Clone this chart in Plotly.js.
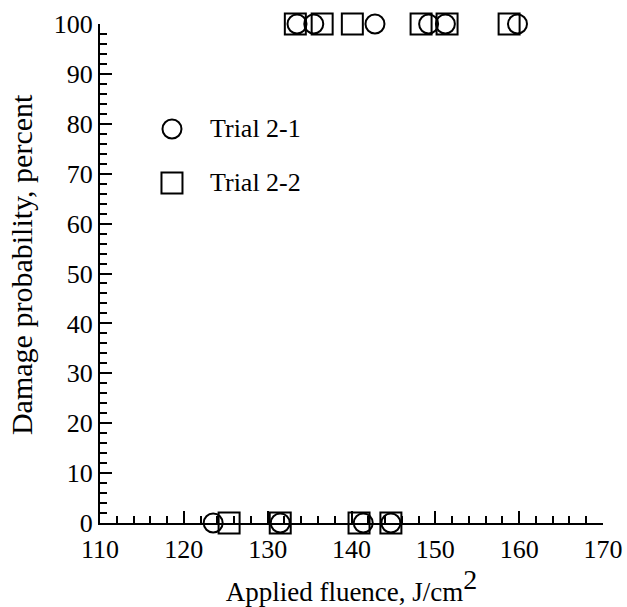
<!DOCTYPE html>
<html>
<head>
<meta charset="utf-8">
<script src="https://cdn.plot.ly/plotly-3.0.1.min.js"></script>
<style>
  html, body { margin: 0; padding: 0; background: #fff; }
  #chart { width: 627px; height: 607px; }
</style>
</head>
<body>
<div id="chart"></div>
<script>
// Trial 2-1 (circles): applied fluence vs damage probability
const trial1Fluence = [123.5, 131.5, 141.4, 144.7, 133.5, 135.5, 142.8, 149.2, 151.2, 159.8];
const trial1Damage  = [0, 0, 0, 0, 100, 100, 100, 100, 100, 100];

// Trial 2-2 (squares)
const trial2Fluence = [125.4, 131.5, 140.9, 144.7, 133.3, 136.5, 140.1, 148.3, 151.4, 158.8];
const trial2Damage  = [0, 0, 0, 0, 100, 100, 100, 100, 100, 100];

const seriesNames = ['Trial 2-1', 'Trial 2-2'];
const xTicks = [110, 120, 130, 140, 150, 160, 170];
const yTicks = [0, 10, 20, 30, 40, 50, 60, 70, 80, 90, 100];

const serif = 'Liberation Serif';
const black = '#000';

const markerLine = { color: black, width: 2 };

const traces = [
  {
    name: seriesNames[0],
    x: trial1Fluence, y: trial1Damage,
    type: 'scatter', mode: 'markers',
    marker: { symbol: 'circle-open', size: 19, color: black, line: markerLine },
    cliponaxis: false
  },
  {
    name: seriesNames[1],
    x: trial2Fluence, y: trial2Damage,
    type: 'scatter', mode: 'markers',
    marker: { symbol: 'square-open', size: 21, color: black, line: markerLine },
    cliponaxis: false
  }
];

function axisStyle() {
  return {
    showgrid: false,
    zeroline: false,
    showline: true,
    linecolor: black,
    linewidth: 2,
    ticks: 'inside',
    ticklen: 12,
    tickwidth: 2,
    tickcolor: black,
    tickmode: 'array',
    tickfont: { family: serif, size: 26, color: black },
    minor: { ticks: 'inside', ticklen: 7, tickwidth: 2, tickcolor: black, dtick: 2, showgrid: false }
  };
}

// Key drawn inside the plot: open symbols with labels to their right
const keyX = 0.1431;         // symbol centre, paper fraction
const keyTextX = 0.2147;     // label left edge
const keyY = [0.7896, 0.6814];
const keyShapes = [
  {
    type: 'circle', xref: 'paper', yref: 'paper',
    xsizemode: 'pixel', ysizemode: 'pixel',
    xanchor: keyX, yanchor: keyY[0],
    x0: -9.5, x1: 9.5, y0: -9.5, y1: 9.5,
    line: { color: black, width: 2 }, fillcolor: 'rgba(0,0,0,0)'
  },
  {
    type: 'rect', xref: 'paper', yref: 'paper',
    xsizemode: 'pixel', ysizemode: 'pixel',
    xanchor: keyX, yanchor: keyY[1],
    x0: -10.5, x1: 10.5, y0: -10.5, y1: 10.5,
    line: { color: black, width: 2 }, fillcolor: 'rgba(0,0,0,0)'
  }
];
const keyLabels = seriesNames.map((name, i) => ({
  text: name, xref: 'paper', yref: 'paper',
  x: keyTextX, y: keyY[i], xanchor: 'left', yanchor: 'middle',
  showarrow: false, font: { family: serif, size: 26, color: black }
}));

const yTitle = {
  text: 'Damage probability, percent', xref: 'paper', yref: 'paper',
  x: -0.157, y: 0.517, xanchor: 'center', yanchor: 'middle',
  textangle: -90, showarrow: false,
  font: { family: serif, size: 30, color: black }
};

const xaxis = Object.assign(axisStyle(), {
  range: [110, 170],
  tickvals: xTicks,
  ticktext: xTicks.map(String),
  ticklabelstandoff: 2,
  title: {
    text: 'Applied fluence, J/cm<sup><span style="font-size:28px">2</span></sup>',
    font: { family: serif, size: 27, color: black }, standoff: 9
  }
});
const yaxis = Object.assign(axisStyle(), {
  range: [0, 100],
  tickvals: yTicks,
  ticktext: yTicks.map(String)
});

const layout = {
  width: 627, height: 607,
  margin: { l: 100, r: 24, t: 24, b: 84 },
  paper_bgcolor: '#fff', plot_bgcolor: '#fff',
  font: { family: serif, size: 26, color: black },
  showlegend: false,
  xaxis: xaxis,
  yaxis: yaxis,
  shapes: keyShapes,
  annotations: keyLabels.concat([yTitle])
};

Plotly.newPlot('chart', traces, layout, { displayModeBar: false, staticPlot: true });
</script>
</body>
</html>
